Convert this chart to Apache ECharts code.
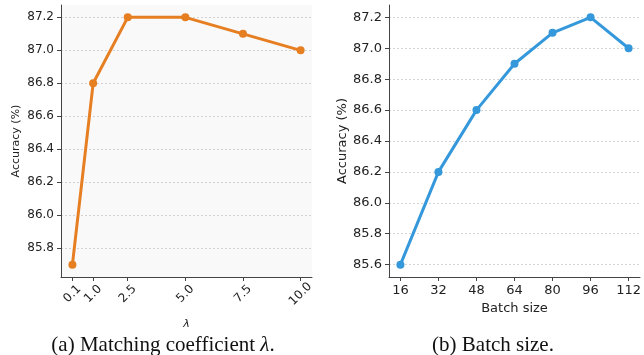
<!DOCTYPE html>
<html>
<head>
<meta charset="utf-8">
<script src="https://cdn.jsdelivr.net/npm/echarts@6/dist/echarts.min.js"></script>
<style>
html,body{margin:0;padding:0;background:#fff;}
#c{width:644px;height:355px;}
</style>
</head>
<body>
<div id="c"></div>
<script>
// Data
const lambdaValues = [0.1, 1.0, 2.5, 5.0, 7.5, 10.0];
const lambdaAccuracy = [85.7, 86.8, 87.2, 87.2, 87.1, 87.0];
const batchSizes = [16, 32, 48, 64, 80, 96, 112];
const batchAccuracy = [85.6, 86.2, 86.6, 86.9, 87.1, 87.2, 87.0];
const lambdaTicks = [0.1, 1.0, 2.5, 5.0, 7.5, 10.0];
const leftYTicks = [85.8, 86.0, 86.2, 86.4, 86.6, 86.8, 87.0, 87.2];
const rightYTicks = [85.6, 85.8, 86.0, 86.2, 86.4, 86.6, 86.8, 87.0, 87.2];
const captionA = '(a) Matching coefficient {i|λ}.';
const captionB = '(b) Batch size.';

const chart = echarts.init(document.getElementById('c'), null, {renderer: 'canvas'});
const sans = 'DejaVu Sans';
const axisLineStyle = {color: '#444', width: 1};
const gridLine = {show: true, lineStyle: {color: '#c8c8c8', type: [2, 2], width: 0.8}};
const capStyle = {fontFamily: 'Liberation Serif', fontSize: 21, fontWeight: 'normal', color: '#111',
  rich: {i: {fontFamily: 'Liberation Serif', fontSize: 21, fontStyle: 'italic', color: '#111'}}};

chart.setOption({
  animation: false,
  backgroundColor: '#fff',
  title: [
    {text: captionA, left: 158, textAlign: 'center', top: 330, textStyle: capStyle},
    {text: captionB, left: 488, textAlign: 'center', top: 330, textStyle: capStyle}
  ],
  grid: [
    {left: 61, right: 332, top: 5, bottom: 78, show: true, backgroundColor: '#f9f9f9', borderWidth: 0},
    {left: 389, right: 4, top: 5, bottom: 78, show: false}
  ],
  xAxis: [
    {gridIndex: 0, type: 'value', min: -0.395, max: 10.495,
     name: 'λ', nameLocation: 'middle', nameGap: 42,
     nameTextStyle: {fontFamily: sans, fontSize: 11, fontStyle: 'italic', color: '#222'},
     axisLine: {show: true, onZero: false, lineStyle: axisLineStyle},
     axisTick: {show: true, length: 4, lineStyle: axisLineStyle, customValues: lambdaTicks},
     axisLabel: {customValues: lambdaTicks, rotate: 45, align: 'center', verticalAlign: 'middle', margin: 17,
       fontFamily: sans, fontSize: 12, color: '#222',
       formatter: v => v.toFixed(1)},
     splitLine: {show: false}},
    {gridIndex: 1, type: 'value', min: 11.2, max: 116.8,
     name: 'Batch size', nameLocation: 'middle', nameGap: 22,
     nameTextStyle: {fontFamily: sans, fontSize: 13, color: '#222'},
     axisLine: {show: true, onZero: false, lineStyle: axisLineStyle},
     axisTick: {show: true, length: 4, lineStyle: axisLineStyle, customValues: batchSizes},
     axisLabel: {customValues: batchSizes, margin: 7, fontFamily: sans, fontSize: 13, color: '#222'},
     splitLine: {show: false}}
  ],
  yAxis: [
    {gridIndex: 0, type: 'value', min: 85.625, max: 87.275,
     name: 'Accuracy (%)', nameLocation: 'middle', nameGap: 39,
     nameTextStyle: {fontFamily: sans, fontSize: 11, color: '#222'},
     axisLine: {show: true, onZero: false, lineStyle: axisLineStyle},
     axisTick: {show: true, length: 4, lineStyle: axisLineStyle, customValues: leftYTicks},
     axisLabel: {customValues: leftYTicks, margin: 7,
       fontFamily: sans, fontSize: 12, color: '#222', formatter: v => v.toFixed(1)},
     splitLine: gridLine},
    {gridIndex: 1, type: 'value', min: 85.52, max: 87.28,
     name: 'Accuracy (%)', nameLocation: 'middle', nameGap: 40,
     nameTextStyle: {fontFamily: sans, fontSize: 13, color: '#222'},
     axisLine: {show: true, onZero: false, lineStyle: axisLineStyle},
     axisTick: {show: true, length: 4, lineStyle: axisLineStyle, customValues: rightYTicks},
     axisLabel: {customValues: rightYTicks, margin: 7,
       fontFamily: sans, fontSize: 13, color: '#222', formatter: v => v.toFixed(1)},
     splitLine: gridLine}
  ],
  series: [
    {type: 'line', xAxisIndex: 0, yAxisIndex: 0,
     data: lambdaValues.map((x, i) => [x, lambdaAccuracy[i]]),
     symbol: 'circle', symbolSize: 8,
     lineStyle: {color: '#e67e22', width: 3},
     itemStyle: {color: '#e67e22'}},
    {type: 'line', xAxisIndex: 1, yAxisIndex: 1,
     data: batchSizes.map((x, i) => [x, batchAccuracy[i]]),
     symbol: 'circle', symbolSize: 8,
     lineStyle: {color: '#3498db', width: 3},
     itemStyle: {color: '#3498db'}}
  ]
});
</script>
</body>
</html>
